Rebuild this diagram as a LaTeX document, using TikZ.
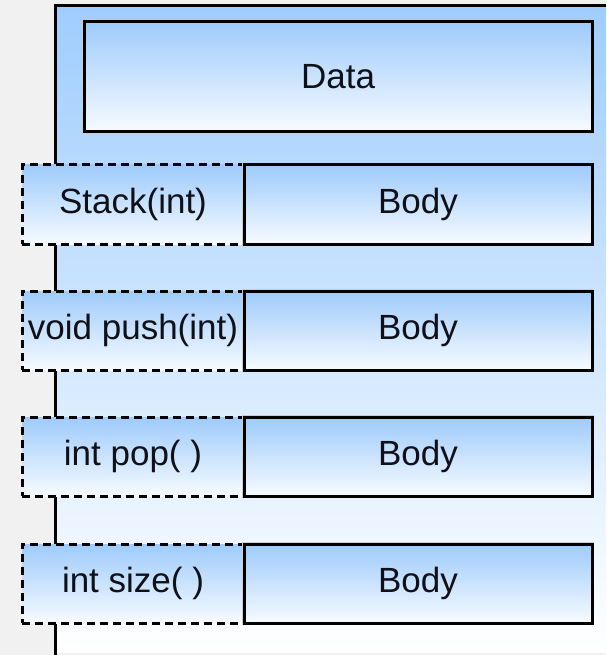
\documentclass[tikz,border=0pt]{standalone}
\usepackage{fontspec}
\setmainfont{Liberation Sans}
\definecolor{bg}{HTML}{F1F1F1}
\definecolor{outtop}{HTML}{9FCDFD}
\definecolor{boxtop}{HTML}{9ECBFB}
\definecolor{boxbot}{HTML}{F7FBFF}
\definecolor{txt}{HTML}{101018}
\begin{document}
\begin{tikzpicture}[x=1pt,y=-1pt,
  lbl/.style={font=\fontsize{35}{40}\selectfont, text=txt, inner sep=0pt, outer sep=0pt},
  solidbox/.style={lbl, top color=boxtop, bottom color=boxbot, draw=black, line width=3pt,
     preaction={draw=gray!40, line width=4.5pt}},
  dashbox/.style={lbl, top color=boxtop, bottom color=boxbot, draw=black, line width=3pt,
     dash pattern=on 8pt off 5pt, minimum width=222pt, minimum height=79pt},
  bodybox/.style={solidbox, minimum width=348pt, minimum height=79pt}]
\useasboundingbox (0,0) rectangle (606,655);
\fill[bg] (0,0) rectangle (606,655);
% outer class box
\shade[top color=outtop, bottom color=white] (55.5,5.5) rectangle (606,652);
\coordinate (otl) at (55.5,5.5);
\coordinate (otr) at (606,5.5);
\coordinate (obl) at (55.5,655);
\draw[line width=3pt] (otr) -- (otl) -- (obl);
% data
\node[solidbox, minimum width=508pt, minimum height=110pt] (data) at (338,77) {Data};
% rows
\foreach \y/\lab/\n in {204.5/Stack(int)/a, 330.5/void push(int)/b, 456.5/int pop( )/c, 583.5/int size( )/d}{
  \node[dashbox] (m\n) at (133,\y) {\lab};
  \node[bodybox] (b\n) at (418,\y) {Body};
}
\end{tikzpicture}
\end{document}
